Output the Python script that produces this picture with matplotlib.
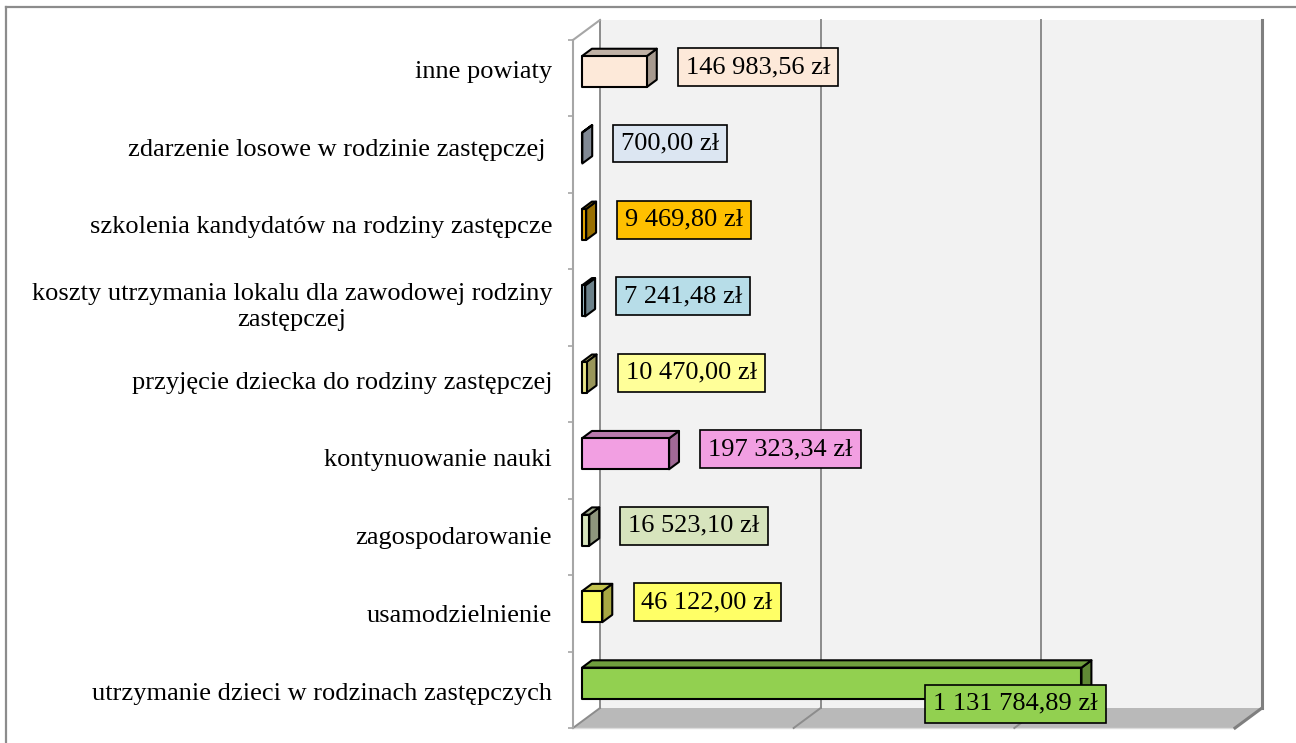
import numpy as np
import matplotlib
matplotlib.use('Agg')
from matplotlib import pyplot as plt
from matplotlib.patches import Polygon
from matplotlib.lines import Line2D

plt.rcParams['font.family'] = ['Liberation Serif', 'DejaVu Serif']

# categories from bottom to top
categories = [
    'utrzymanie dzieci w rodzinach zastępczych',
    'usamodzielnienie',
    'zagospodarowanie',
    'kontynuowanie nauki',
    'przyjęcie dziecka do rodziny zastępczej',
    'koszty utrzymania lokalu dla zawodowej rodziny\nzastępczej',
    'szkolenia kandydatów na rodziny zastępcze',
    'zdarzenie losowe w rodzinie zastępczej ',
    'inne powiaty',
]
values = [1131784.89, 46122.00, 16523.10, 197323.34, 10470.00,
          7241.48, 9469.80, 700.00, 146983.56]
value_labels = ['1 131 784,89 zł', '46 122,00 zł', '16 523,10 zł', '197 323,34 zł',
                '10 470,00 zł', '7 241,48 zł', '9 469,80 zł', '700,00 zł', '146 983,56 zł']
bar_colors = ['#92d050', '#ffff66', '#d7e4bd', '#f29fe2', '#e8e488',
              '#a3c4d1', '#e6a800', '#c4d0e0', '#fde9d9']
box_colors = ['#92d050', '#ffff66', '#d7e4bd', '#f29fe2', '#ffff99',
              '#b7dde8', '#ffc000', '#dce6f2', '#fde9d9']
xmax = 1500000
grid_vals = [0, 500000, 1000000, 1500000]

W, H = 1296, 743
fig = plt.figure(figsize=(W / 100, H / 100), dpi=100)
ax = fig.add_axes([573 / W, (H - 728) / H, 662 / W, 688 / H])
ax.set_xlim(0, xmax)
ax.set_ylim(-0.5, len(categories) - 0.5)
ax.patch.set_visible(False)
for s in ax.spines.values():
    s.set_visible(False)

# 3D depth vector (full depth) in data units
DX = 27 / 662 * xmax
DY = 20 / 688 * len(categories)
d0, d1 = 0.333, 0.70
h = 0.2025
ytop = len(categories) - 0.5


def P(x, y, d):
    return (x + d * DX, y + d * DY)


def poly(pts, fc, ec='none', lw=0, z=1):
    ax.add_patch(Polygon(pts, closed=True, fc=fc, ec=ec, lw=lw, zorder=z,
                         clip_on=False, joinstyle='round'))


# back wall and floor
poly([P(0, -0.5, 1), P(xmax, -0.5, 1), P(xmax, ytop, 1), P(0, ytop, 1)], '#f2f2f2', z=0)
poly([P(0, -0.5, 0), P(xmax, -0.5, 0), P(xmax, -0.5, 1), P(0, -0.5, 1)], '#b9b9b9', z=0)
ax.plot([0, xmax], [-0.5, -0.5], color='#dcdcdc', lw=1, clip_on=False, zorder=0.5)
for gv in grid_vals:
    c, lw = ('#7f7f7f', 2.2) if gv == xmax else ('#8c8c8c', 1.4)
    ax.plot(*zip(P(gv, -0.5, 1), P(gv, ytop, 1)), color=c, lw=lw, clip_on=False, zorder=0.6)
    ax.plot(*zip(P(gv, -0.5, 0), P(gv, -0.5, 1)), color=c, lw=lw, clip_on=False, zorder=0.6)

# left axis line and top diagonal
ax.plot([0, 0], [-0.5, ytop], color='#a6a6a6', lw=1.5, clip_on=False, zorder=0.6)
ax.plot(*zip(P(0, ytop, 0), P(0, ytop, 1)), color='#a6a6a6', lw=1.5, clip_on=False, zorder=0.6)


def shade(c, f):
    r, g, b = matplotlib.colors.to_rgb(c)
    return (r * f, g * f, b * f)


# bars
for i, (v, col) in enumerate(zip(values, bar_colors)):
    side = [P(v, i - h, d0), P(v, i - h, d1), P(v, i + h, d1), P(v, i + h, d0)]
    top = [P(0, i + h, d0), P(v, i + h, d0), P(v, i + h, d1), P(0, i + h, d1)]
    front = [P(0, i - h, d0), P(v, i - h, d0), P(v, i + h, d0), P(0, i + h, d0)]
    poly(side, shade(col, 0.66), 'black', 1.5, 2)
    poly(top, shade(col, 0.76), 'black', 1.5, 2)
    poly(front, col, 'black', 1.5, 2.1)

# value labels
imax = int(np.argmax(values))
for i, (v, lab, bc) in enumerate(zip(values, value_labels, box_colors)):
    bbox = dict(boxstyle='square,pad=0.3', fc=bc, ec='black', lw=1.2)
    if i == imax:
        ax.annotate(lab, xy=P(v, i, d0), xytext=(-47.5, -14.8), textcoords='offset points',
                    ha='center', va='center', fontsize=19, bbox=bbox, zorder=5)
    else:
        ax.annotate(lab, xy=(v + d1 * DX, i + d0 * DY + 0.06), xytext=(21, 0),
                    textcoords='offset points', ha='left', va='center',
                    fontsize=19, bbox=bbox, zorder=5)

# category labels
label_pos = np.arange(len(categories)) * 1.016 - 0.016
ax.set_yticks(label_pos)
ax.set_yticklabels(categories, fontsize=19, multialignment='center')
ax.tick_params(axis='y', which='major', length=0, pad=15)
ax.set_yticks(np.arange(-0.5, len(categories)), minor=True)
ax.tick_params(axis='y', which='minor', length=3.6, width=1.2, color='#a6a6a6', direction='out')
ax.set_xticks([])

# outer border
fig.add_artist(Line2D([6 / W, 6 / W], [0, 1 - 7 / H], transform=fig.transFigure, color='#8c8c8c', lw=1.6))
fig.add_artist(Line2D([6 / W, 1], [1 - 7 / H, 1 - 7 / H], transform=fig.transFigure, color='#8c8c8c', lw=1.6))

fig.savefig('out.png', dpi=100)
